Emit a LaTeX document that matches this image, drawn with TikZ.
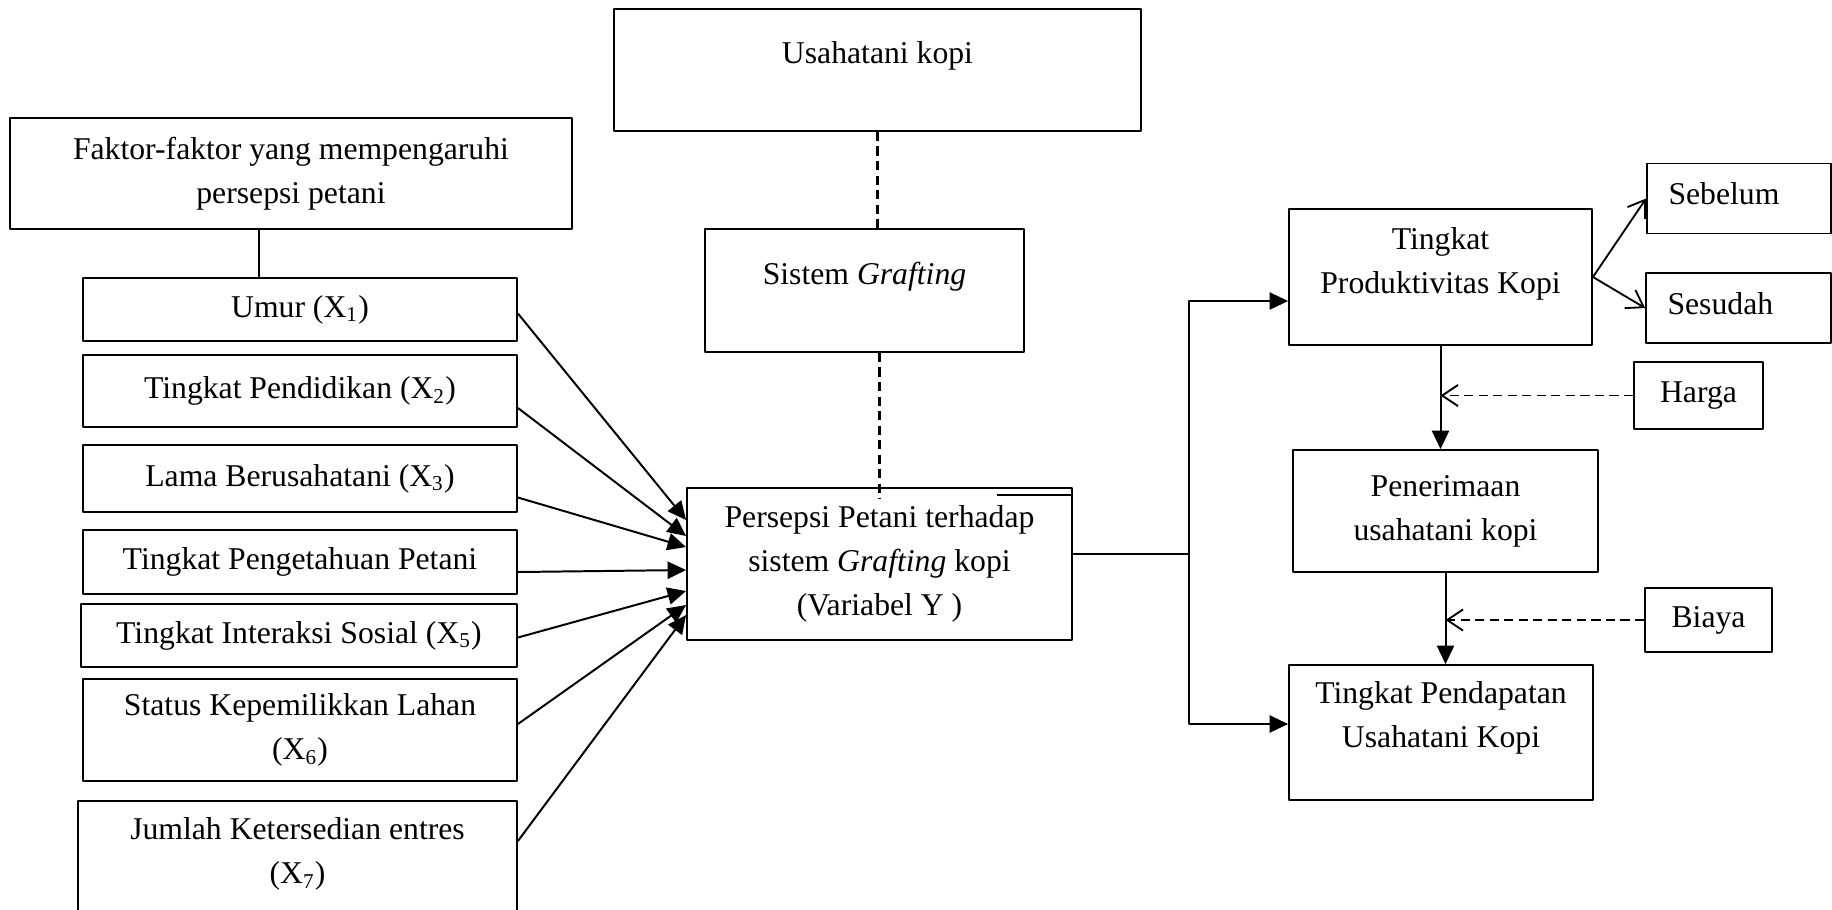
\documentclass[tikz,border=0pt]{standalone}
\usepackage{fontspec}
\setmainfont{Liberation Serif}
\usetikzlibrary{arrows.meta,calc}
\tikzset{
  box/.style={draw, line width=0.7pt, inner sep=0pt, align=center},
  wh/.style 2 args={minimum width=#1*0.0133cm, minimum height=#2*0.0133cm},
  txt/.style={inner sep=0pt, align=center},
  garis/.style={line width=0.7pt},
  arr/.style={-{Triangle[length=7pt,width=6.5pt]}, line width=0.75pt},
  oarr/.style={-{Straight Barb[length=6pt,width=8pt]}, line width=0.7pt},
  dline/.style={dash pattern=on 3.5pt off 2pt, line width=0.85pt},
}
\begin{document}
\begin{tikzpicture}[x=0.0133cm, y=-0.0133cm, font=\fontsize{12}{16.6}\selectfont, line join=round]
\useasboundingbox (0,0) rectangle (1832,909);
% bagian tengah
\node[box, wh={527}{122}] (usaha) at (877.5,70) {};
\node[txt] (usaha-t) at (877.5,56) {Usahatani kopi};
\node[box, wh={319}{123}] (sistem) at (864.5,290.5) {};
\node[txt] (sistem-t) at (864.5,277) {Sistem \textit{Grafting}};
\node[box, wh={385}{152}] (persepsi) at (879.5,564) {Persepsi Petani terhadap\\sistem \textit{Grafting} kopi\\(Variabel Y )};
% faktor-faktor (X)
\node[box, wh={562}{111}] (faktor) at (291,173.5) {Faktor-faktor yang mempengaruhi\\persepsi petani};
\node[box, wh={434}{63}] (umur) at (300,309.5) {Umur (X\textsubscript{1})};
\node[box, wh={434}{72}] (pend) at (300,391) {Tingkat Pendidikan (X\textsubscript{2})};
\node[box, wh={434}{67}] (lama) at (300,478.5) {Lama Berusahatani (X\textsubscript{3})};
\node[box, wh={434}{64}] (tahu) at (300,562) {Tingkat Pengetahuan Petani};
\node[box, wh={436}{63}] (sosial) at (299,635.5) {Tingkat Interaksi Sosial (X\textsubscript{5})};
\node[box, wh={434}{102}] (lahan) at (300,730) {Status Kepemilikkan Lahan\\(X\textsubscript{6})};
\node[box, wh={439}{130}] (entres) at (297.5,866) {};
\node[txt] (entres-t) at (297.5,854) {Jumlah Ketersedian entres\\(X\textsubscript{7})};
% bagian kanan
\node[box, wh={303}{136}] (prod) at (1440.5,277) {};
\node[txt] (prod-t) at (1440.5,264) {Tingkat\\Produktivitas Kopi};
\node[box, wh={184}{70}] (sebelum) at (1739,198.5) {};
\node[txt, anchor=west] (sebelum-t) at (1668,194) {Sebelum};
\node[box, wh={185}{70}] (sesudah) at (1738.5,308) {};
\node[txt, anchor=west] (sesudah-t) at (1667,304) {Sesudah};
\node[box, wh={129}{67}] (harga) at (1698.5,395.5) {Harga};
\node[box, wh={305}{122}] (pener) at (1445.5,511) {Penerimaan\\usahatani kopi};
\node[box, wh={127}{64}] (biaya) at (1708.5,620) {Biaya};
\node[box, wh={304}{135}] (pendap) at (1441,732.5) {};
\node[txt] (pendap-t) at (1441,718) {Tingkat Pendapatan\\Usahatani Kopi};
% garis
\coordinate (fu) at (259,0);
\draw[garis] (faktor.south -| fu) -- (umur.north -| fu);
\draw[dline] (usaha.south) -- (usaha.south |- sistem.north);
\draw[dline] (persepsi.north |- sistem.south) -- ($(persepsi.north)+(0,12)$);
\draw[garis] ($(persepsi.north east)+(-76,8)$) -- ($(persepsi.north east)+(0,8)$);
\foreach \b/\s/\t in {umur/4/-44, pend/17/-28, lama/19/-17, tahu/10/6, sosial/2/27, lahan/-6/41, entres/-25/51}
  \draw[arr] ($(\b.east)+(0,\s)$) -- ($(persepsi.west)+(0,\t)$);
\coordinate (cabang) at (1189,554);
\coordinate (atas) at (1189,301);
\coordinate (bawah) at (1189,724);
\draw[garis] (persepsi.east |- cabang) -- (cabang);
\draw[arr] (cabang) -- (atas) -- (prod.west |- atas);
\draw[arr] (cabang) -- (bawah) -- (pendap.west |- bawah);
\draw[arr] (prod.south) -- (prod.south |- pener.north);
\draw[arr] (pener.south) -- (pener.south |- pendap.north);
\draw[dline, oarr] (harga.west) -- (harga.west -| prod.south);
\draw[dline, oarr] (biaya.west) -- (biaya.west -| pener.south);
\draw[oarr] (prod.east) -- (sebelum.west);
\draw[oarr] (prod.east) -- (sesudah.west);
\end{tikzpicture}
\end{document}
